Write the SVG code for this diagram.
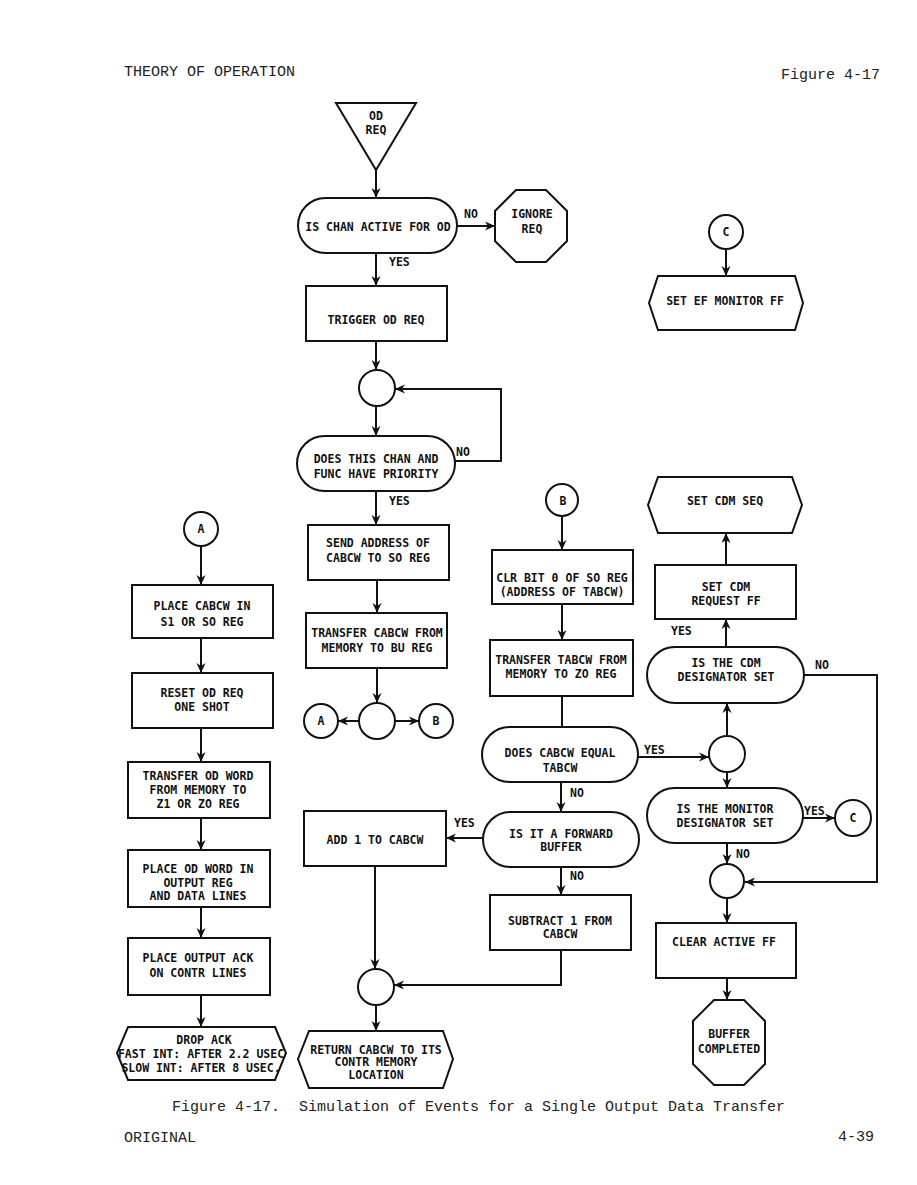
<svg xmlns="http://www.w3.org/2000/svg" width="917" height="1185" viewBox="0 0 917 1185">
<style>
.s{fill:#fff;stroke:#111;stroke-width:2}
.t{font-family:"DejaVu Sans Mono","Liberation Mono",monospace;font-weight:bold;font-size:11.5px;fill:#111;text-anchor:middle}
.l{font-family:"DejaVu Sans Mono","Liberation Mono",monospace;font-weight:bold;font-size:11.5px;fill:#111}
.h{font-family:"Liberation Mono","DejaVu Sans Mono",monospace;font-size:15px;fill:#222}
.c{fill:none;stroke:#111;stroke-width:2}
</style>
<defs>
<marker id="ar" markerUnits="userSpaceOnUse" markerWidth="12" markerHeight="10" refX="10" refY="5" orient="auto">
<path d="M0,0.5 L10,5 L0,9.5 L3,5 z" fill="#111"/>
</marker>
</defs>
<rect width="917" height="1185" fill="#fff"/>
<g id="header">
<text class="h" x="124" y="76">THEORY OF OPERATION</text>
<text class="h" x="781" y="79">Figure 4-17</text>
</g>
<g id="connectors">
<path class="c" d="M376,170 V198" marker-end="url(#ar)"/>
<path class="c" d="M457,226 H495" marker-end="url(#ar)"/>
<path class="c" d="M376,253 V286" marker-end="url(#ar)"/>
<path class="c" d="M376,341 V370" marker-end="url(#ar)"/>
<path class="c" d="M376,406 V436" marker-end="url(#ar)"/>
<path class="c" d="M455,461 H501 V389 H395" marker-end="url(#ar)"/>
<path class="c" d="M376,491 V525" marker-end="url(#ar)"/>
<path class="c" d="M377,580 V613" marker-end="url(#ar)"/>
<path class="c" d="M377,668 V703" marker-end="url(#ar)"/>
<path class="c" d="M359,721 H338" marker-end="url(#ar)"/>
<path class="c" d="M395,721 H419" marker-end="url(#ar)"/>
<path class="c" d="M201,546 V585" marker-end="url(#ar)"/>
<path class="c" d="M201,638 V673" marker-end="url(#ar)"/>
<path class="c" d="M201,728 V762" marker-end="url(#ar)"/>
<path class="c" d="M201,818 V850" marker-end="url(#ar)"/>
<path class="c" d="M201,907 V938" marker-end="url(#ar)"/>
<path class="c" d="M201,995 V1027" marker-end="url(#ar)"/>
<path class="c" d="M562,516 V550" marker-end="url(#ar)"/>
<path class="c" d="M562,604 V640" marker-end="url(#ar)"/>
<path class="c" d="M562,696 V727"/>
<path class="c" d="M638,757 H709" marker-end="url(#ar)"/>
<path class="c" d="M561,782 V812" marker-end="url(#ar)"/>
<path class="c" d="M483,838 H446" marker-end="url(#ar)"/>
<path class="c" d="M561,867 V895" marker-end="url(#ar)"/>
<path class="c" d="M375,866 V969" marker-end="url(#ar)"/>
<path class="c" d="M561,950 V985 H394" marker-end="url(#ar)"/>
<path class="c" d="M376,1005 V1031" marker-end="url(#ar)"/>
<path class="c" d="M726,249 V276" marker-end="url(#ar)"/>
<path class="c" d="M726,565 V533" marker-end="url(#ar)"/>
<path class="c" d="M726,647 V619" marker-end="url(#ar)"/>
<path class="c" d="M804,675 H877 V882 H745" marker-end="url(#ar)"/>
<path class="c" d="M727,736 V703" marker-end="url(#ar)"/>
<path class="c" d="M727,772 V788" marker-end="url(#ar)"/>
<path class="c" d="M803,818 H835" marker-end="url(#ar)"/>
<path class="c" d="M727,843 V864" marker-end="url(#ar)"/>
<path class="c" d="M727,898 V923" marker-end="url(#ar)"/>
<path class="c" d="M727,978 V1000" marker-end="url(#ar)"/>
<text class="l" x="464" y="218">NO</text>
<text class="l" x="389" y="266">YES</text>
<text class="l" x="456" y="456">NO</text>
<text class="l" x="389" y="505">YES</text>
<text class="l" x="644" y="754">YES</text>
<text class="l" x="570" y="797">NO</text>
<text class="l" x="454" y="827">YES</text>
<text class="l" x="570" y="880">NO</text>
<text class="l" x="671" y="635">YES</text>
<text class="l" x="815" y="669">NO</text>
<text class="l" x="804" y="815">YES</text>
<text class="l" x="736" y="858">NO</text>
</g>
<g id="od-req">
<polygon class="s" points="336,103 416,103 376,170"/>
<text class="t" x="376" y="120">OD</text>
<text class="t" x="376" y="134">REQ</text>
</g>
<g id="chan-active">
<rect class="s" x="298" y="198" width="159" height="55" rx="27.5"/>
<text class="t" x="378" y="231">IS CHAN ACTIVE FOR OD</text>
</g>
<g id="ignore-req">
<polygon class="s" points="516,190 546,190 567,211 567,241 546,262 516,262 495,241 495,211"/>
<text class="t" x="532" y="218">IGNORE</text>
<text class="t" x="532" y="233">REQ</text>
</g>
<g id="trigger">
<rect class="s" x="306" y="286" width="141" height="55"/>
<text class="t" x="376" y="324">TRIGGER OD REQ</text>
</g>
<g id="merge1"><circle class="s" cx="377" cy="388" r="18"/></g>
<g id="priority">
<rect class="s" x="297" y="436" width="158" height="55" rx="27.5"/>
<text class="t" x="376" y="463">DOES THIS CHAN AND</text>
<text class="t" x="376" y="478">FUNC HAVE PRIORITY</text>
</g>
<g id="send-address">
<rect class="s" x="308" y="525" width="141" height="55"/>
<text class="t" x="378" y="547">SEND ADDRESS OF</text>
<text class="t" x="378" y="562">CABCW TO SO REG</text>
</g>
<g id="transfer-cabcw">
<rect class="s" x="306" y="613" width="141" height="55"/>
<text class="t" x="377" y="637">TRANSFER CABCW FROM</text>
<text class="t" x="377" y="652">MEMORY TO BU REG</text>
</g>
<g id="split"><circle class="s" cx="377" cy="721" r="18"/></g>
<g id="to-a"><circle class="s" cx="321" cy="721" r="17"/><text class="t" x="321" y="725">A</text></g>
<g id="to-b"><circle class="s" cx="436" cy="721" r="17"/><text class="t" x="436" y="725">B</text></g>
<g id="from-a"><circle class="s" cx="201" cy="529" r="17"/><text class="t" x="201" y="533">A</text></g>
<g id="place-cabcw">
<rect class="s" x="132" y="585" width="141" height="53"/>
<text class="t" x="202" y="610">PLACE CABCW IN</text>
<text class="t" x="202" y="626">S1 OR SO REG</text>
</g>
<g id="reset-od">
<rect class="s" x="132" y="673" width="141" height="55"/>
<text class="t" x="202" y="697">RESET OD REQ</text>
<text class="t" x="202" y="711">ONE SHOT</text>
</g>
<g id="transfer-od">
<rect class="s" x="128" y="762" width="142" height="56"/>
<text class="t" x="198" y="780">TRANSFER OD WORD</text>
<text class="t" x="198" y="794">FROM MEMORY TO</text>
<text class="t" x="198" y="808">Z1 OR ZO REG</text>
</g>
<g id="place-od">
<rect class="s" x="128" y="850" width="142" height="57"/>
<text class="t" x="198" y="873">PLACE OD WORD IN</text>
<text class="t" x="198" y="887">OUTPUT REG</text>
<text class="t" x="198" y="900">AND DATA LINES</text>
</g>
<g id="place-ack">
<rect class="s" x="128" y="938" width="142" height="57"/>
<text class="t" x="198" y="962">PLACE OUTPUT ACK</text>
<text class="t" x="198" y="977">ON CONTR LINES</text>
</g>
<g id="drop-ack">
<polygon class="s" points="128,1027 275,1027 286,1053 275,1080 128,1080 117,1053"/>
<text class="t" x="204" y="1044">DROP ACK</text>
<text class="t" x="201" y="1058">FAST INT: AFTER 2.2 USEC</text>
<text class="t" x="201" y="1072">SLOW INT: AFTER 8 USEC.</text>
</g>
<g id="from-b"><circle class="s" cx="562" cy="500" r="16"/><text class="t" x="563" y="505">B</text></g>
<g id="clr-bit">
<rect class="s" x="492" y="550" width="141" height="54"/>
<text class="t" x="562" y="582">CLR BIT 0 OF SO REG</text>
<text class="t" x="562" y="596">(ADDRESS OF TABCW)</text>
</g>
<g id="transfer-tabcw">
<rect class="s" x="490" y="640" width="143" height="56"/>
<text class="t" x="561" y="664">TRANSFER TABCW FROM</text>
<text class="t" x="561" y="678">MEMORY TO ZO REG</text>
</g>
<g id="equal">
<rect class="s" x="482" y="727" width="156" height="55" rx="27.5"/>
<text class="t" x="560" y="757">DOES CABCW EQUAL</text>
<text class="t" x="560" y="772">TABCW</text>
</g>
<g id="forward">
<rect class="s" x="483" y="812" width="156" height="55" rx="27.5"/>
<text class="t" x="561" y="838">IS IT A FORWARD</text>
<text class="t" x="561" y="851">BUFFER</text>
</g>
<g id="add-1">
<rect class="s" x="304" y="811" width="142" height="55"/>
<text class="t" x="375" y="844">ADD 1 TO CABCW</text>
</g>
<g id="subtract-1">
<rect class="s" x="490" y="895" width="141" height="55"/>
<text class="t" x="560" y="925">SUBTRACT 1 FROM</text>
<text class="t" x="560" y="938">CABCW</text>
</g>
<g id="merge-bottom"><circle class="s" cx="376" cy="987" r="18"/></g>
<g id="return-cabcw">
<polygon class="s" points="309,1031 443,1031 453,1059 443,1088 309,1088 298,1059"/>
<text class="t" x="376" y="1054">RETURN CABCW TO ITS</text>
<text class="t" x="376" y="1066">CONTR MEMORY</text>
<text class="t" x="376" y="1079">LOCATION</text>
</g>
<g id="from-c"><circle class="s" cx="726" cy="232" r="17"/><text class="t" x="726" y="236">C</text></g>
<g id="set-ef">
<polygon class="s" points="658,276 795,276 803,303 795,330 658,330 649,303"/>
<text class="t" x="725" y="305">SET EF MONITOR FF</text>
</g>
<g id="set-cdm-seq">
<polygon class="s" points="658,477 792,477 802,505 792,533 658,533 648,505"/>
<text class="t" x="725" y="505">SET CDM SEQ</text>
</g>
<g id="set-cdm-req">
<rect class="s" x="655" y="565" width="141" height="54"/>
<text class="t" x="726" y="591">SET CDM</text>
<text class="t" x="726" y="605">REQUEST FF</text>
</g>
<g id="cdm-designator">
<rect class="s" x="647" y="647" width="157" height="56" rx="28"/>
<text class="t" x="726" y="667">IS THE CDM</text>
<text class="t" x="726" y="681">DESIGNATOR SET</text>
</g>
<g id="merge-right"><circle class="s" cx="727" cy="754" r="18"/></g>
<g id="monitor-designator">
<rect class="s" x="647" y="788" width="156" height="55" rx="27.5"/>
<text class="t" x="725" y="813">IS THE MONITOR</text>
<text class="t" x="725" y="827">DESIGNATOR SET</text>
</g>
<g id="to-c"><circle class="s" cx="853" cy="818" r="18"/><text class="t" x="853" y="822">C</text></g>
<g id="merge-low"><circle class="s" cx="727" cy="881" r="17"/></g>
<g id="clear-active">
<rect class="s" x="656" y="923" width="140" height="55"/>
<text class="t" x="724" y="946">CLEAR ACTIVE FF</text>
</g>
<g id="buffer-completed">
<polygon class="s" points="714,1000 744,1000 765,1021 765,1064 744,1085 714,1085 693,1064 693,1021"/>
<text class="t" x="729" y="1038">BUFFER</text>
<text class="t" x="729" y="1053">COMPLETED</text>
</g>
<g id="footer">
<text class="h" x="172" y="1111">Figure 4-17.</text>
<text class="h" x="299" y="1111">Simulation of Events for a Single Output Data Transfer</text>
<text class="h" x="124" y="1142">ORIGINAL</text>
<text class="h" x="838" y="1141">4-39</text>
</g>
</svg>
